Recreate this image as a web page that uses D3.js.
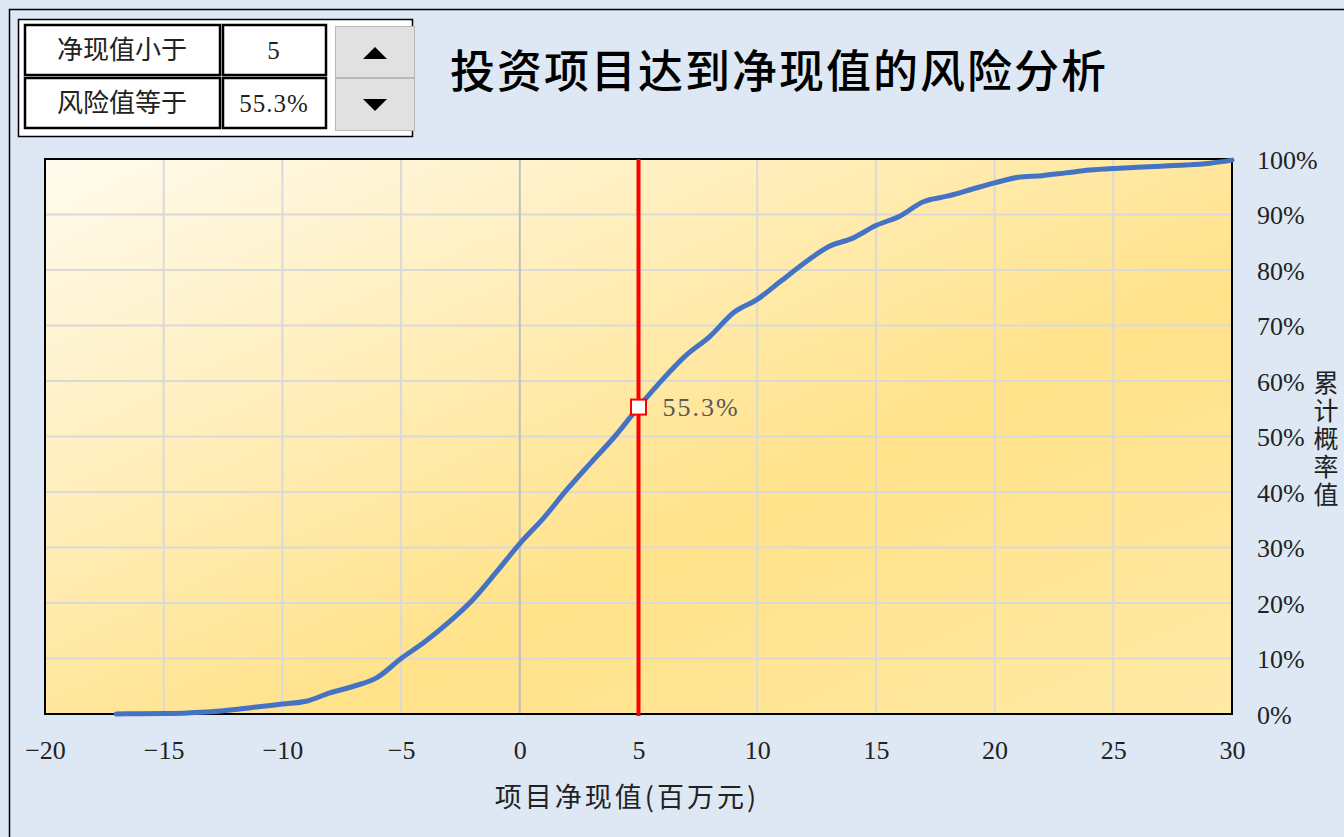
<!DOCTYPE html>
<html><head><meta charset="utf-8">
<script src="https://cdn.jsdelivr.net/npm/d3@7"></script>
<style>
html,body{margin:0;padding:0;background:#dde8f4;}
svg{display:block;}
</style></head>
<body>
<svg id="chart" width="1344" height="837"></svg>
<script>
// ---- data ----
const npvValues = [-17,-16,-15,-14,-13,-12,-11,-10,-9,-8,-7,-6,-5,-4,-3,-2,-1,0,1,2,3,4,5,6,7,8,9,10,11,12,13,14,15,16,17,18,19,20,21,22,23,24,25,26,27,28,29,30];
const cumProb = [0,0.05,0.1,0.2,0.4,0.8,1.3,1.8,2.3,3.8,5.0,6.6,10.0,13.0,16.5,20.5,25.5,30.7,35.3,40.5,45.3,50.0,55.3,60.2,64.6,68.0,72.3,74.7,78.0,81.3,84.2,85.7,88.0,89.7,92.3,93.3,94.5,95.7,96.7,97.0,97.5,98.0,98.3,98.5,98.7,98.9,99.2,99.8];
const xTicks = [-20,-15,-10,-5,0,5,10,15,20,25,30];
const yTicks = [0,10,20,30,40,50,60,70,80,90,100];
const thresholdValue = 5;
const riskValue = 55.3;
const title = "投资项目达到净现值的风险分析";
const xTitle = "项目净现值(百万元)";
const yTitle = "累计概率值";
const panelLabels = ["净现值小于","风险值等于"];
const panelValues = [String(thresholdValue), riskValue.toFixed(1)+"%"];

const svg = d3.select("#chart");
const FONT = "'Liberation Serif','Noto Sans CJK SC',serif";
const CJK = "'Noto Sans CJK SC',sans-serif";

// background + outer border
svg.append("rect").attr("x",0).attr("y",0).attr("width",1344).attr("height",837).attr("fill","#dde8f4");
svg.append("path").attr("d","M9.5,837 L9.5,9.5 L1344,9.5").attr("fill","none").attr("stroke","#000").attr("stroke-width",1.5);

const L=45, R=1232, T=159, B=714;
const x = d3.scaleLinear().domain([-20,30]).range([L,R]);
const y = d3.scaleLinear().domain([0,100]).range([B,T]);

// gradient
const defs = svg.append("defs");
const g = defs.append("linearGradient").attr("id","bg").attr("x1","0").attr("y1","0").attr("x2","1").attr("y2","1");
g.append("stop").attr("offset","0%").attr("stop-color","#fffbee");
g.append("stop").attr("offset","62%").attr("stop-color","#ffe289");
g.append("stop").attr("offset","100%").attr("stop-color","#ffeaa6");
svg.append("rect").attr("x",L).attr("y",T).attr("width",R-L).attr("height",B-T).attr("fill","url(#bg)");

// gridlines
svg.append("g").selectAll("line").data(yTicks.slice(1,-1)).join("line")
  .attr("x1",L).attr("x2",R).attr("y1",d=>y(d)).attr("y2",d=>y(d))
  .attr("stroke","#d9d9d9").attr("stroke-width",2);
svg.append("g").selectAll("line").data(xTicks.slice(1,-1)).join("line")
  .attr("y1",T).attr("y2",B).attr("x1",d=>x(d)).attr("x2",d=>x(d))
  .attr("stroke",d=>d===0?"#bfbfbf":"#d9d9d9").attr("stroke-width",2);

// plot border
svg.append("rect").attr("x",L).attr("y",T).attr("width",R-L).attr("height",B-T)
  .attr("fill","none").attr("stroke","#000").attr("stroke-width",2);

// axes labels
const xAxis = d3.axisBottom(x).tickValues(xTicks).tickSize(0).tickFormat(d=>d<0?"\u2212"+Math.abs(d):d);
const gx = svg.append("g").attr("transform",`translate(0,${B})`).call(xAxis);
gx.select(".domain").remove();
gx.selectAll("text").attr("font-family",FONT).attr("font-size",26).attr("fill","#222").attr("dy","0").attr("y",45);

const yAxis = d3.axisRight(y).tickValues(yTicks).tickSize(0).tickFormat(d=>d+"%");
const gy = svg.append("g").attr("transform",`translate(${R},0)`).call(yAxis);
gy.select(".domain").remove();
gy.selectAll("text").attr("font-family",FONT).attr("font-size",26).attr("fill","#222").attr("x",25).attr("dy","0.36em");

// axis titles
svg.append("text").attr("x",627).attr("y",807).attr("text-anchor","middle")
  .attr("font-family",CJK).attr("font-size",27).attr("letter-spacing",3).attr("fill","#222").text(xTitle);
svg.append("text").attr("x",1326).attr("y",440).attr("text-anchor","middle")
  .attr("writing-mode","vertical-rl").attr("letter-spacing",3)
  .attr("font-family",CJK).attr("font-size",25).attr("fill","#222").text(yTitle);

// curve
const pts = npvValues.map((v,i)=>[v,cumProb[i]]);
svg.append("path").datum(pts)
  .attr("d",d3.line().x(d=>x(d[0])).y(d=>y(d[1])).curve(d3.curveMonotoneX))
  .attr("fill","none").attr("stroke","#4472c4").attr("stroke-width",5).attr("stroke-linecap","round");

// threshold line
svg.append("line").attr("x1",x(thresholdValue)).attr("x2",x(thresholdValue)).attr("y1",T).attr("y2",B+2)
  .attr("stroke","#ff0000").attr("stroke-width",4);
svg.append("rect").attr("x",x(thresholdValue)-7.5).attr("y",y(riskValue)-7.5).attr("width",15).attr("height",15)
  .attr("fill","#fff").attr("stroke","#ff0000").attr("stroke-width",2);
svg.append("text").attr("x",x(thresholdValue)+24).attr("y",y(riskValue)).attr("dy","0.36em")
  .attr("font-family",FONT).attr("font-size",26).attr("letter-spacing",2).attr("fill","#595959").text(riskValue.toFixed(1)+"%");

// title
svg.append("text").attr("x",779).attr("y",88).attr("text-anchor","middle")
  .attr("font-family",CJK).attr("font-weight",500).attr("font-size",45).attr("letter-spacing",2).attr("fill","#000").text(title);

// control panel
svg.append("rect").attr("x",18.5).attr("y",19.5).attr("width",394).attr("height",117)
  .attr("fill","#fff").attr("stroke","#000").attr("stroke-width",1.5);
[0,1].forEach(r=>{
  const yy = 25+r*53;
  svg.append("rect").attr("x",25).attr("y",yy).attr("width",195).attr("height",50).attr("fill","#fff").attr("stroke","#000").attr("stroke-width",2.5);
  svg.append("rect").attr("x",223).attr("y",yy).attr("width",103).attr("height",50).attr("fill","#fff").attr("stroke","#000").attr("stroke-width",2.5);
  svg.append("text").attr("x",122).attr("y",yy+25).attr("dy","0.36em").attr("text-anchor","middle")
    .attr("font-family",CJK).attr("font-size",26).attr("fill","#222").text(panelLabels[r]);
  svg.append("text").attr("x",274).attr("y",yy+25).attr("dy","0.36em").attr("text-anchor","middle")
    .attr("font-family",FONT).attr("font-size",25).attr("letter-spacing",1).attr("fill","#222").text(panelValues[r]);
});
// spinner
svg.append("rect").attr("x",335.5).attr("y",26.5).attr("width",79).attr("height",51).attr("fill","#e1e1e1").attr("stroke","#b8b8b8");
svg.append("rect").attr("x",335.5).attr("y",78.5).attr("width",79).attr("height",52).attr("fill","#e1e1e1").attr("stroke","#b8b8b8");
svg.append("path").attr("d","M363,59 L375,47 L387,59 Z").attr("fill","#000");
svg.append("path").attr("d","M363,99 L387,99 L375,111 Z").attr("fill","#000");
</script>
</body></html>
